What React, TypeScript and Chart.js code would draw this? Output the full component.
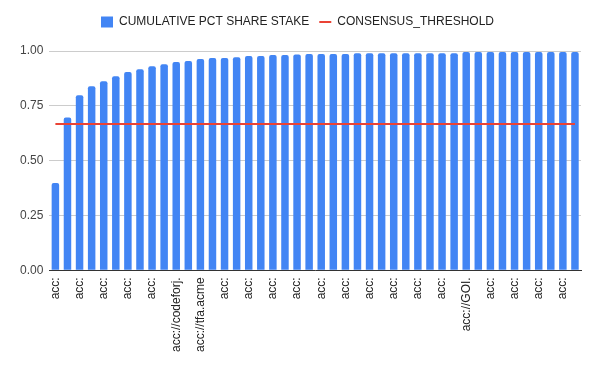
import React, { useEffect, useRef } from "react";
import { Chart, registerables } from "chart.js";

Chart.register(...registerables);

const categories: string[] = [
  "acc:", "acc:", "acc:", "acc:", "acc:", "acc:", "acc:", "acc:", "acc:", "acc:",
  "acc://codeforj.", "acc:", "acc://tfa.acme", "acc:", "acc:", "acc:", "acc:", "acc:", "acc:", "acc:",
  "acc:", "acc:", "acc:", "acc:", "acc:", "acc:", "acc:", "acc:", "acc:", "acc:",
  "acc:", "acc:", "acc:", "acc:", "acc://GOI.", "acc:", "acc:", "acc:", "acc:", "acc:",
  "acc:", "acc:", "acc:", "acc:",
];

const cumulativeStake: number[] = [
  0.398, 0.697, 0.798, 0.839, 0.862, 0.885, 0.904, 0.917, 0.931, 0.94,
  0.95, 0.954, 0.963, 0.968, 0.968, 0.972, 0.977, 0.977, 0.982, 0.982,
  0.984, 0.986, 0.986, 0.986, 0.986, 0.99, 0.99, 0.99, 0.99, 0.99,
  0.99, 0.99, 0.99, 0.99, 0.995, 0.995, 0.995, 0.995, 0.995, 0.995,
  0.995, 0.995, 0.995, 0.995,
];

const consensusThreshold: number[] = categories.map(() => 0.667);

const yTicks: number[] = [0, 0.25, 0.5, 0.75, 1];

const FONT = "'Liberation Sans', Arial, sans-serif";

const legendMargin = {
  id: "legendMargin",
  beforeInit(chart: any) {
    const orig = chart.legend.fit;
    chart.legend.fit = function () {
      orig.call(this);
      this.height += 13;
    };
  },
};

export default function App() {
  const ref = useRef<HTMLCanvasElement | null>(null);

  useEffect(() => {
    if (!ref.current) return;
    const chart = new Chart(ref.current, {
      type: "bar",
      data: {
        labels: categories,
        datasets: [
          {
            type: "bar",
            label: "CUMULATIVE PCT SHARE STAKE",
            data: cumulativeStake,
            backgroundColor: "#4285f4",
            borderRadius: 2,
            borderSkipped: "start",
            categoryPercentage: 1,
            barPercentage: 0.62,
            order: 1,
            pointStyle: "rect",
          } as any,
          {
            type: "line",
            label: "CONSENSUS_THRESHOLD",
            data: consensusThreshold,
            borderColor: "#ea4335",
            backgroundColor: "#ea4335",
            borderWidth: 2,
            pointRadius: 0,
            pointStyle: "line",
            order: 0,
          } as any,
        ],
      },
      plugins: [legendMargin],
      options: {
        animation: false,
        responsive: false,
        layout: { padding: { top: 6, left: 14, right: 19, bottom: 12 } },
        plugins: {
          tooltip: { enabled: false },
          legend: {
            position: "top",
            labels: {
              usePointStyle: true,
              boxHeight: 11,
              pointStyleWidth: 12,
              color: "#222",
              font: { family: FONT, size: 12 },
              padding: 10,
              sort: (a: any, b: any) => a.datasetIndex - b.datasetIndex,
            },
          },
        },
        scales: {
          x: {
            offset: true,
            grid: { display: false, drawTicks: false },
            border: { display: true, color: "#333", width: 1 },
            ticks: {
              autoSkip: false,
              minRotation: 90,
              maxRotation: 90,
              padding: 7,
              color: "#222",
              font: { family: FONT, size: 12 },
              callback: (_v: any, i: number) => (i % 2 === 0 ? categories[i] : ""),
            },
          },
          y: {
            min: 0,
            max: 1,
            afterBuildTicks: (axis: any) => {
              axis.ticks = yTicks.map((v) => ({ value: v }));
            },
            grid: { color: "#cccccc", drawTicks: false },
            border: { display: false },
            ticks: {
              padding: 6,
              color: "#444",
              font: { family: FONT, size: 12 },
              callback: (v: any) => Number(v).toFixed(2),
            },
          },
        },
      },
    });
    return () => chart.destroy();
  }, []);

  return (
    <div style={{ position: "absolute", left: 0, top: 0, width: 600, height: 371 }}>
      <canvas ref={ref} width={600} height={371} />
    </div>
  );
}
